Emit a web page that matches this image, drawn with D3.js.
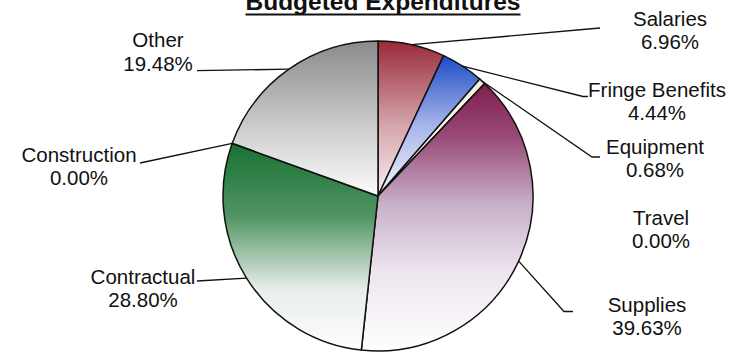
<!DOCTYPE html>
<html>
<head>
<meta charset="utf-8">
<script src="https://cdn.jsdelivr.net/npm/d3@7"></script>
<style>
  html, body { margin: 0; padding: 0; background: #fff; }
  svg { display: block; }
  text { font-family: "Liberation Sans", Arial, sans-serif; fill: #111; }
</style>
</head>
<body>
<svg id="chart" width="746" height="352"></svg>
<script>
// Budget categories, clockwise from 12 o'clock
const categories = ["Salaries", "Fringe Benefits", "Equipment", "Travel",
                    "Supplies", "Contractual", "Construction", "Other"];
// Share of the budget, in percent
const shares = [6.96, 4.44, 0.68, 0.00, 39.63, 28.80, 0.00, 19.48];
const chartTitle = "Budgeted Expenditures";

// Vertical gradient stops for each slice (top colour fading to white)
const sliceStops = [
  [[0, "#992a39"], [0.55, "#d6a6ad"], [1, "#f7eef0"]],
  [[0, "#1c4cc6"], [0.5, "#a7b5ea"], [1, "#f5f5fd"]],
  [[0, "#f1efdf"], [1, "#ffffff"]],
  [[0, "#ffffff"], [1, "#ffffff"]],
  [[0, "#7f1e4e"], [0.2, "#9a4a78"], [0.45, "#c6b0c8"], [0.7, "#ede4ee"], [1, "#ffffff"]],
  [[0, "#187134"], [0.35, "#4f9462"], [0.7, "#e6ede8"], [1, "#ffffff"]],
  [[0, "#ffffff"], [1, "#ffffff"]],
  [[0, "#8a8a8a"], [0.6, "#d2d2d2"], [1, "#fbfbfb"]]
];

// Label layout: text centre, first baseline, leader line elbow/end (null = no leader)
const labelLayout = [
  { x: 670, y: 26,    leader: [[600, 28]] },
  { x: 657, y: 97,    leader: [[583, 96.5], [588, 96.5]] },
  { x: 655, y: 153.5, leader: [[592, 157], [600, 157]] },
  { x: 661, y: 225,   leader: null },
  { x: 647, y: 312,   leader: [[564, 311.5], [573, 311.5]] },
  { x: 143, y: 284,   leader: [[197, 281]] },
  { x: 79,  y: 162,   leader: [[140, 163]], atEnd: true },
  { x: 158, y: 47.3,  leader: [[197, 70.7]] }
];

const cx = 378, cy = 196, radius = 155;
const svg = d3.select("#chart");

// Gradients
const defs = svg.append("defs");
sliceStops.forEach((stops, i) => {
  const g = defs.append("linearGradient")
    .attr("id", "grad" + i)
    .attr("x1", 0).attr("y1", 0).attr("x2", 0).attr("y2", 1);
  stops.forEach(([o, c]) => g.append("stop").attr("offset", o).attr("stop-color", c));
});

const pie = d3.pie().sort(null).value(d => d)(shares);
const arc = d3.arc().innerRadius(0).outerRadius(radius);

const g = svg.append("g").attr("transform", `translate(${cx},${cy})`);

g.selectAll("path.slice")
  .data(pie)
  .join("path")
  .attr("class", "slice")
  .attr("d", arc)
  .attr("fill", (d, i) => `url(#grad${i})`)
  .attr("stroke", "#111")
  .attr("stroke-width", 1.5)
  .attr("stroke-linejoin", "round");

// Leader lines from the rim to each label
const rimPoint = (a) => [cx + radius * Math.sin(a), cy - radius * Math.cos(a)];
const lineGen = d3.line();
pie.forEach((d, i) => {
  const lay = labelLayout[i];
  if (!lay.leader) return;
  const ang = lay.atEnd ? d.endAngle : (d.startAngle + d.endAngle) / 2;
  const start = rimPoint(ang);
  const pts = [start, ...lay.leader];
  svg.append("path")
    .attr("d", lineGen(pts))
    .attr("fill", "none")
    .attr("stroke", "#111")
    .attr("stroke-width", 1.3);
});

// Labels: category name and percentage
const fmt = d3.format(".2f");
categories.forEach((name, i) => {
  const lay = labelLayout[i];
  const t = svg.append("text")
    .attr("text-anchor", "middle")
    .attr("font-size", 20.5);
  t.append("tspan").attr("x", lay.x).attr("y", lay.y).text(name);
  t.append("tspan").attr("x", lay.x).attr("y", lay.y + 23.4).text(fmt(shares[i]) + "%");
});

// Title, bold and underlined
const title = svg.append("text")
  .attr("x", 383).attr("y", 10)
  .attr("text-anchor", "middle")
  .attr("font-size", 24.5)
  .attr("font-weight", "bold")
  .text(chartTitle);
const tw = title.node().getComputedTextLength();
svg.append("line")
  .attr("x1", 383 - tw / 2).attr("x2", 383 + tw / 2)
  .attr("y1", 14.5).attr("y2", 14.5)
  .attr("stroke", "#111").attr("stroke-width", 2);
</script>
</body>
</html>
